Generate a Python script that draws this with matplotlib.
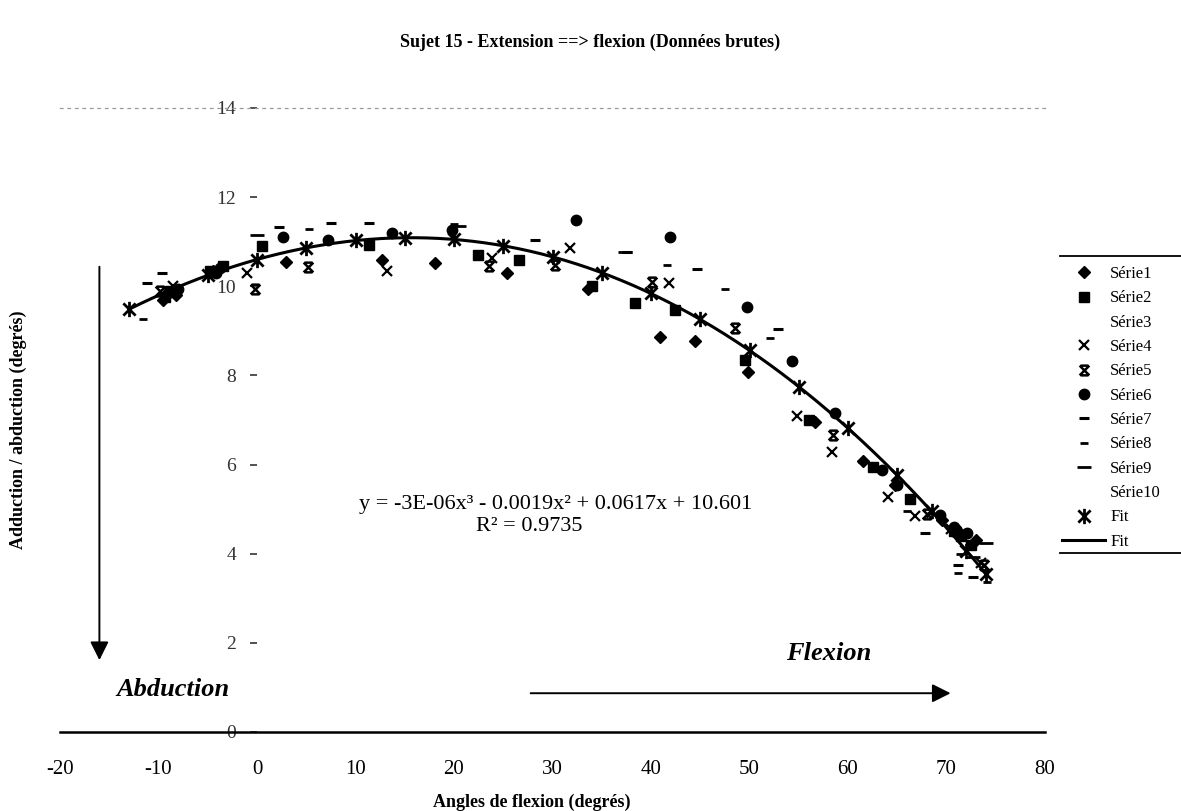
import numpy as np
import matplotlib
matplotlib.use("Agg")
import matplotlib.pyplot as plt
from matplotlib.path import Path
from matplotlib.lines import Line2D

plt.rcParams['font.family'] = ['Liberation Serif', 'DejaVu Serif']

# ---------------- data ----------------
s1_x = [-9.5, -8.2, -4.5, 2.9, 12.7, 18.1, 25.4, 33.6, 40.9, 44.5, 49.8, 56.7, 61.5, 64.8, 69.5, 71.5, 73.0]
s1_y = [9.70, 9.80, 10.35, 10.54, 10.58, 10.52, 10.30, 9.95, 8.86, 8.77, 8.07, 6.95, 6.08, 5.55, 4.75, 4.45, 4.30]

s2_x = [-9.3, -8.8, -4.8, -3.5, 0.5, 11.4, 22.4, 26.6, 34.0, 38.4, 42.4, 49.5, 56.0, 62.5, 66.3, 70.8, 71.5, 72.5]
s2_y = [9.75, 9.90, 10.35, 10.45, 10.90, 10.92, 10.70, 10.60, 10.00, 9.62, 9.46, 8.34, 7.00, 5.95, 5.22, 4.50, 4.40, 4.20]

s3_x, s3_y = [], []

s4_x = [-8.5, -1.0, 13.2, 23.9, 31.8, 41.8, 54.8, 58.4, 64.1, 66.8, 70.5, 73.5]
s4_y = [10.00, 10.30, 10.35, 10.63, 10.85, 10.07, 7.09, 6.28, 5.27, 4.85, 4.55, 3.80]

s5_x = [-9.8, -0.2, 5.2, 23.6, 30.3, 40.1, 48.5, 58.5, 68.0, 71.0, 73.8]
s5_y = [9.90, 9.95, 10.43, 10.45, 10.47, 10.10, 9.06, 6.66, 4.90, 4.50, 3.75]

s6_x = [-9.0, -8.0, -4.2, -3.8, 2.6, 7.2, 13.7, 19.8, 32.4, 41.9, 49.7, 54.3, 58.7, 63.5, 65.0, 69.3, 70.8, 72.1]
s6_y = [9.85, 9.95, 10.30, 10.42, 11.10, 11.03, 11.20, 11.26, 11.48, 11.10, 9.53, 8.32, 7.15, 5.87, 5.54, 4.87, 4.60, 4.46]

s7_x = [-11.2, -9.6, 2.2, 7.5, 11.4, 28.2, 37.6, 44.7, 52.9, 61.5, 67.8, 71.2, 72.7]
s7_y = [10.07, 10.30, 11.32, 11.43, 11.41, 11.03, 10.77, 10.38, 9.04, 6.05, 4.46, 3.74, 3.48]

s8_x = [-11.6, 5.3, 20.0, 41.6, 47.5, 52.1, 66.0, 71.4, 71.2, 74.1]
s8_y = [9.26, 11.28, 11.40, 10.47, 9.93, 8.83, 4.95, 4.00, 3.56, 3.36]

s9_x = [0.0, 20.5, 37.4, 72.7, 74.0]
s9_y = [11.15, 11.35, 10.76, 3.92, 4.25]

s10_x, s10_y = [], []

fit_x = [-13, -5, 0, 5, 10, 15, 20, 25, 30, 35, 40, 45, 50, 55, 60, 65, 68.5, 72, 74]
fit_y = [9.48, 10.25, 10.60, 10.86, 11.03, 11.09, 11.05, 10.91, 10.66, 10.30, 9.84,
         9.26, 8.56, 7.75, 6.82, 5.76, 4.95, 4.07, 3.55]

fit_coeffs = [-3e-6, -0.0019, 0.0617, 10.601]
fit_range = [-13, 74]

x_ticks = [-20, -10, 0, 10, 20, 30, 40, 50, 60, 70, 80]
y_ticks = [0, 2, 4, 6, 8, 10, 12, 14]

title = "Sujet 15 - Extension ==> flexion (Données brutes)"
xlabel = "Angles de flexion (degrés)"
ylabel = "Adduction / abduction (degrés)"
eq_text = "y = -3E-06x³ - 0.0019x² + 0.0617x + 10.601"
r2_text = "R² = 0.9735"

# ---------------- markers ----------------
star = Path([(-1, -1), (1, 1), (-1, 1), (1, -1), (0, -1.25), (0, 1.25)],
            [Path.MOVETO, Path.LINETO, Path.MOVETO, Path.LINETO, Path.MOVETO, Path.LINETO])
hourglass = Path([(-1, -1), (1, 1), (-1, 1), (1, -1), (-0.8, 1), (0.8, 1), (-0.8, -1), (0.8, -1)],
                 [Path.MOVETO, Path.LINETO, Path.MOVETO, Path.LINETO,
                  Path.MOVETO, Path.LINETO, Path.MOVETO, Path.LINETO])

W, H = 1181, 811
fig = plt.figure(figsize=(W / 100, H / 100), dpi=100)
ax = fig.add_axes([60 / W, 1 - 732 / H, 985 / W, 624 / H])
ax.set_xlim(-20, 80)
ax.set_ylim(0, 14)

k = 'black'
h1, = ax.plot(s1_x, s1_y, ls='none', marker='D', ms=6, color=k, label='Série1')
h2, = ax.plot(s2_x, s2_y, ls='none', marker='s', ms=6.5, color=k, label='Série2')
h3, = ax.plot(s3_x, s3_y, ls='none', marker='None', color=k, label='Série3')
h4, = ax.plot(s4_x, s4_y, ls='none', marker='x', ms=7, mew=1.6, color=k, label='Série4')
h5, = ax.plot(s5_x, s5_y, ls='none', marker=hourglass, ms=7, mew=1.8, mfc='none', color=k, label='Série5')
h6, = ax.plot(s6_x, s6_y, ls='none', marker='o', ms=7.5, color=k, label='Série6')
h7, = ax.plot(s7_x, s7_y, ls='none', marker='_', ms=7, mew=2.2, color=k, label='Série7')
h8, = ax.plot(s8_x, s8_y, ls='none', marker='_', ms=6, mew=2.0, color=k, label='Série8')
h9, = ax.plot(s9_x, s9_y, ls='none', marker='_', ms=10, mew=2.0, color=k, label='Série9')
h10, = ax.plot(s10_x, s10_y, ls='none', marker='None', color=k, label='Série10')
hf, = ax.plot(fit_x, fit_y, ls='none', marker=star, ms=11, mew=2.0, mfc='none', color=k, label='Fit')
xs = np.linspace(fit_range[0], fit_range[1], 300)
hl, = ax.plot(xs, np.polyval(fit_coeffs, xs), color=k, lw=2.2, label='Fit')

# ---------------- axes styling ----------------
ax.spines['left'].set_position(('data', 0))
ax.spines['left'].set_visible(False)
ax.spines['right'].set_visible(False)
ax.spines['top'].set_linestyle((0, (2, 4)))
ax.spines['top'].set_color('#9a9a9a')
ax.spines['top'].set_linewidth(0.9)
ax.spines['bottom'].set_linewidth(1.8)
ax.set_xticks(x_ticks)
ax.set_yticks(y_ticks)
ax.set_xticklabels([str(v) for v in x_ticks])
ax.set_yticklabels([str(v) for v in y_ticks])
ax.tick_params(axis='x', length=0, pad=20, labelsize=15)
ax.tick_params(axis='y', length=5, width=1.2, direction='out', pad=10,
               labelsize=14, colors='#333333')
ax.patch.set_visible(False)

# ---------------- texts ----------------
fig.text(590 / W, 1 - 42 / H, title, ha='center', va='center', fontsize=13, fontweight='bold')
fig.text(532 / W, 1 - 802 / H, xlabel, ha='center', va='center', fontsize=13, fontweight='bold')
fig.text(18 / W, 1 - 430 / H, ylabel, ha='center', va='center', rotation=90,
         fontsize=13, fontweight='bold')

ax.text(30.3, 5.10, eq_text, ha='center', va='center', fontsize=16)
ax.text(27.6, 4.60, r2_text, ha='center', va='center', fontsize=16)

# arrows
ax.annotate('', xy=(-16.0, 1.55), xytext=(-16.0, 10.5),
            arrowprops=dict(arrowstyle='-|>', color=k, lw=1.4, mutation_scale=28))
ax.annotate('', xy=(70.7, 0.87), xytext=(27.5, 0.87),
            arrowprops=dict(arrowstyle='-|>', color=k, lw=1.4, mutation_scale=28))
ax.text(-8.5, 0.95, 'Abduction', ha='center', va='center', fontsize=19,
        fontweight='bold', fontstyle='italic')
ax.text(58.0, 1.75, 'Flexion', ha='center', va='center', fontsize=19,
        fontweight='bold', fontstyle='italic')

# ---------------- legend ----------------
leg = fig.legend(handles=[h1, h2, h3, h4, h5, h6, h7, h8, h9, h10, hf, hl],
                 loc='upper left', bbox_to_anchor=(1062 / W, 1 - 266 / H),
                 frameon=False, fontsize=12, labelspacing=0.5, handlelength=2.6,
                 handletextpad=0.3, borderaxespad=0, borderpad=0)
for y in (256, 553):
    fig.add_artist(Line2D([1060 / W, 1.0], [1 - y / H, 1 - y / H], color=k, lw=1.3))

fig.savefig('out.png', dpi=100)
